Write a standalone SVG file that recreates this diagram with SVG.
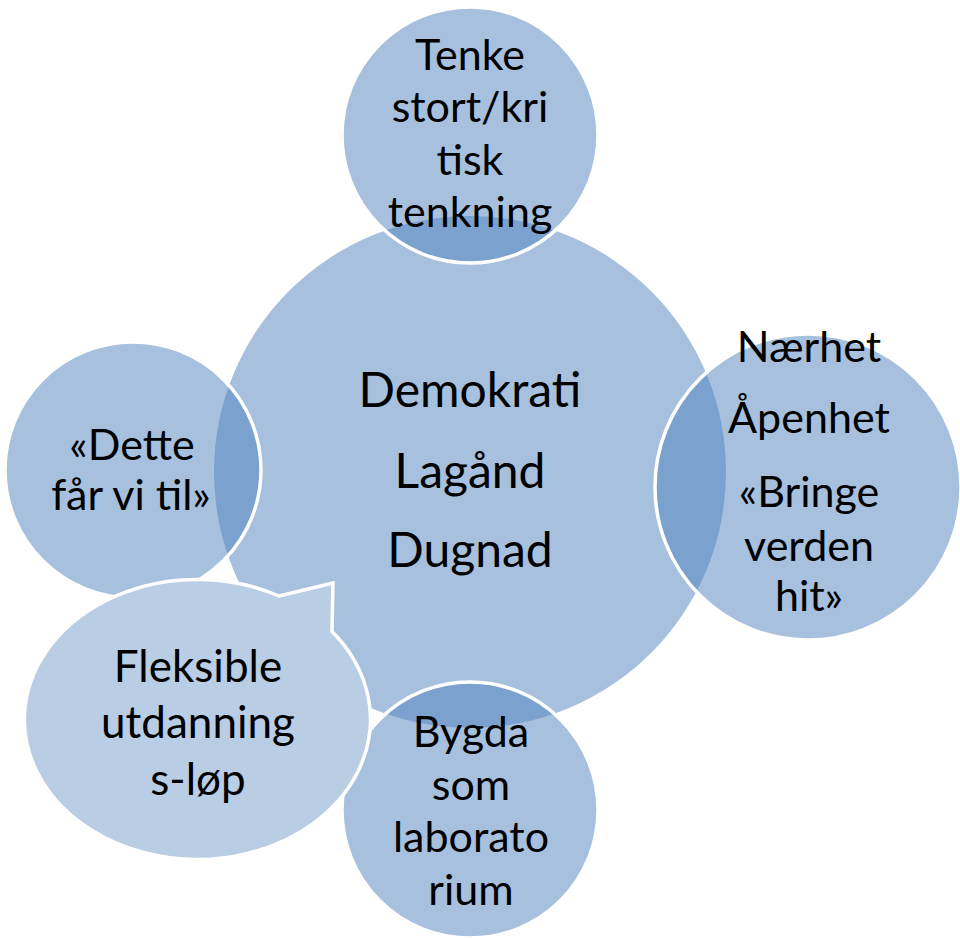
<svg xmlns="http://www.w3.org/2000/svg" width="960" height="938" viewBox="0 0 960 938">
<style>
.sat{fill:#4F81BD;fill-opacity:0.5;stroke:#FFFFFF;stroke-width:3.5}
.t{font-family:Lato,"Liberation Sans",sans-serif;font-size:43px;fill:#000;text-anchor:middle}
.tc{font-size:48px}
.tb{font-size:44px}
</style>
<rect width="960" height="938" fill="#FFFFFF"/>
<g id="center">
<circle cx="470" cy="472" r="256" fill="#A7C0DE"/>
<text class="t tc" x="470" y="407">Demokrati</text>
<text class="t tc" x="470" y="488">Lagånd</text>
<text class="t tc" x="470" y="567">Dugnad</text>
</g>
<g id="top">
<circle class="sat" cx="470" cy="135" r="128"/>
<text class="t" x="470" y="70">Tenke</text>
<text class="t" x="470" y="122">stort/kri</text>
<text class="t" x="470" y="175">tisk</text>
<text class="t" x="470" y="227">tenkning</text>
</g>
<g id="right">
<circle class="sat" cx="808" cy="487" r="153"/>
<text class="t" x="809" y="362">Nærhet</text>
<text class="t" x="809" y="433">Åpenhet</text>
<text class="t" x="809" y="507">«Bringe</text>
<text class="t" x="809" y="561">verden</text>
<text class="t" x="809" y="611">hit»</text>
</g>
<g id="left">
<circle class="sat" cx="133" cy="470" r="128"/>
<text class="t" x="132" y="460">«Dette</text>
<text class="t" x="131" y="510">får vi til»</text>
</g>
<g id="bottom">
<circle class="sat" cx="470" cy="810" r="128"/>
<text class="t" x="471" y="747">Bygda</text>
<text class="t" x="471" y="800">som</text>
<text class="t" x="471" y="852">laborato</text>
<text class="t" x="471" y="905">rium</text>
</g>
<g id="bubble">
<path d="M279,596 L333,583 L332,631.5 A173,140 0 1 1 279,596 Z" fill="#B9CDE5" stroke="#FFFFFF" stroke-width="3.5" stroke-linejoin="miter"/>
<text class="t tb" x="198" y="682">Fleksible</text>
<text class="t tb" x="198" y="738">utdanning</text>
<text class="t tb" x="198" y="795">s-løp</text>
</g>
<g id="connectors"></g>
</svg>
